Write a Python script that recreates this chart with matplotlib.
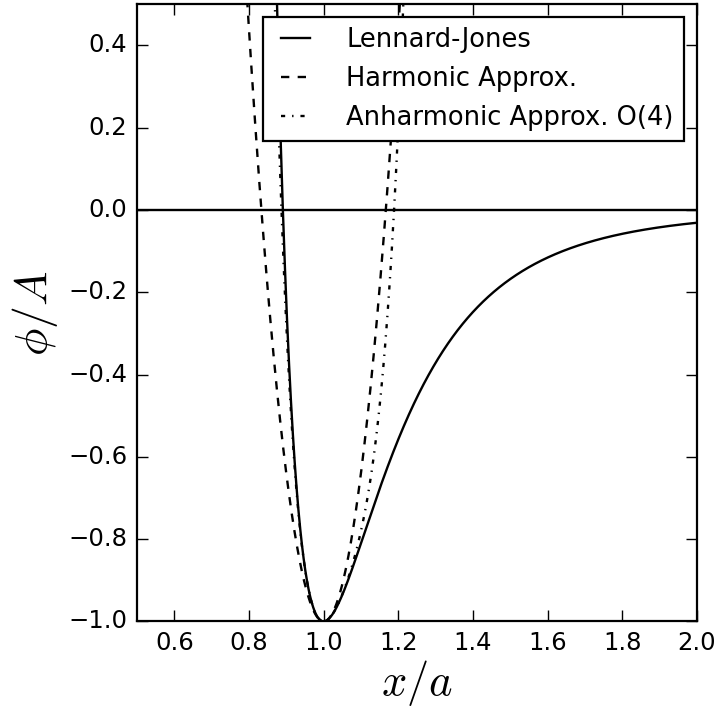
import numpy as np
import matplotlib
matplotlib.use("Agg")
import matplotlib.pyplot as plt

# Lennard-Jones potential in reduced units: phi/A = (a/x)^12 - 2 (a/x)^6
well_depth = 1.0        # A
r_min = 1.0             # a (position of the minimum)
# Taylor coefficients of phi/A about x = a (orders 0, 2, 3, 4)
c0, c2, c3, c4 = -1.0, 36.0, -252.0, 1113.0

series_labels = ["Lennard-Jones", "Harmonic Approx.", "Anharmonic Approx. O(4)"]
x_ticks = [0.6, 0.8, 1.0, 1.2, 1.4, 1.6, 1.8, 2.0]
y_ticks = [-1.0, -0.8, -0.6, -0.4, -0.2, 0.0, 0.2, 0.4]

plt.style.use("classic")
plt.rcParams["mathtext.fontset"] = "cm"
plt.rcParams["savefig.facecolor"] = "white"
plt.rcParams["figure.facecolor"] = "white"
plt.rcParams["font.family"] = ["DejaVu Sans"]

x = np.linspace(0.5, 2.0, 3001)
u = r_min / x
lj = well_depth * (u**12 - 2 * u**6)
h = x / r_min - 1.0
harm = c0 + c2 * h**2
anharm = c0 + c2 * h**2 + c3 * h**3 + c4 * h**4

fig = plt.figure(figsize=(7.17, 7.11), dpi=100)
ax = fig.add_axes([0.191, 0.126, 0.781, 0.868])

ax.plot(x, lj, "k-", lw=1.7, label=series_labels[0])
ax.plot(x, harm, "k--", lw=1.7, label=series_labels[1])
ax.plot(x, anharm, "k-.", lw=1.7, label=series_labels[2])
ax.axhline(0.0, color="k", lw=1.7)

ax.set_xlim(0.5, 2.0)
ax.set_ylim(-1.0, 0.5)
ax.set_xticks(x_ticks)
ax.set_yticks(y_ticks)
ax.tick_params(labelsize=17.5, width=1, length=8, pad=7)
for s in ax.spines.values():
    s.set_linewidth(1.6)

ax.set_xlabel(r"$x/a$", fontsize=32, labelpad=2)
ax.set_ylabel(r"$\phi/A$", fontsize=33, labelpad=6)

leg = ax.legend(loc="upper right", fontsize=18.5, frameon=True, fancybox=False,
                handlelength=1.75, handletextpad=1.1, borderpad=0.4,
                labelspacing=0.5, borderaxespad=0.5)
leg.get_frame().set_linewidth(1.6)
leg.get_frame().set_edgecolor("k")

fig.savefig("out.png", dpi=100)
